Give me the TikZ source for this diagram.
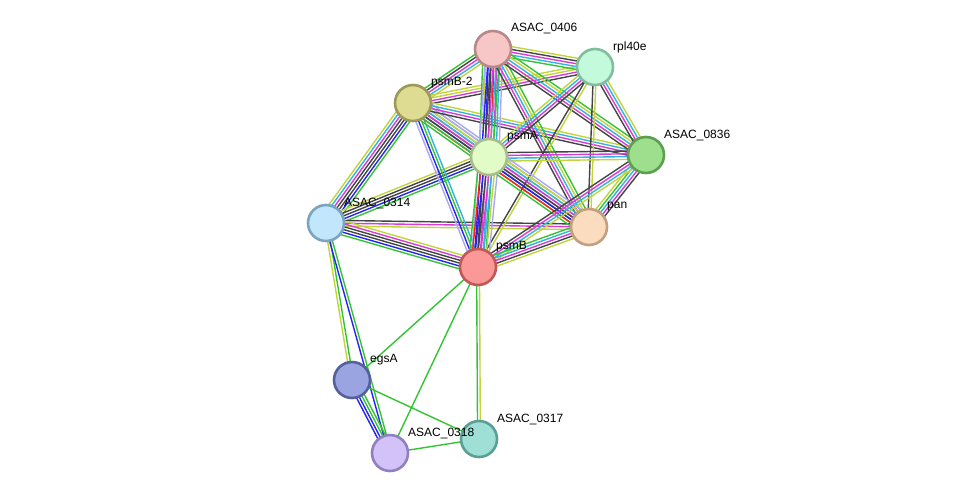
\documentclass[tikz,border=0pt]{standalone}
\usepackage{fontspec}
\setmainfont{Liberation Sans}
\usetikzlibrary{calc,backgrounds}
\definecolor{cNeigh}{HTML}{33C433}
\definecolor{cFus}{HTML}{FF2020}
\definecolor{cCooc}{HTML}{2424F4}
\definecolor{cCoex}{HTML}{444444}
\definecolor{cExp}{HTML}{D93AD9}
\definecolor{cDb}{HTML}{33B4DE}
\definecolor{cText}{HTML}{C2D43C}
\definecolor{cHom}{HTML}{A8A8F4}
\tikzset{
  prot/.style={circle, minimum size=36pt, inner sep=0pt, line width=2.6pt},
  lbl/.style={anchor=west, font=\fontsize{12}{12}\selectfont, inner sep=0pt},
}
\newcommand\bund[3]{%
  \def\bcount{0}%
  \foreach \c in {#3}{\pgfmathtruncatemacro\tmp{\bcount+1}\xdef\bcount{\tmp}}%
  \foreach \c [count=\i] in {#3}{%
    \pgfmathsetmacro\off{(\i-(\bcount+1)/2)*2.8}%
    \draw[\c, line width=1.4pt] ($(#1)!\off pt!90:(#2)$) -- ($(#2)!\off pt!-90:(#1)$);
  }}
\begin{document}
\begin{tikzpicture}[x=1pt,y=-1pt]
\useasboundingbox (0,0) rectangle (976,498);
% nodes
\node[prot, fill={rgb,255:red,247;green,199;blue,199}, draw={rgb,255:red,186;green,136;blue,136}] (A) at (493,49) {};
\node[prot, fill={rgb,255:red,196;green,250;blue,220}, draw={rgb,255:red,128;green,190;blue,158}] (R) at (595,67) {};
\node[prot, fill={rgb,255:red,222;green,219;blue,146}, draw={rgb,255:red,156;green,154;blue,88}] (B2) at (413,103) {};
\node[prot, fill={rgb,255:red,226;green,252;blue,200}, draw={rgb,255:red,166;green,190;blue,140}] (PA) at (489,157) {};
\node[prot, fill={rgb,255:red,158;green,223;blue,142}, draw={rgb,255:red,94;green,158;blue,80}] (C) at (646,155) {};
\node[prot, fill={rgb,255:red,194;green,230;blue,252}, draw={rgb,255:red,122;green,164;blue,192}] (D) at (326,223) {};
\node[prot, fill={rgb,255:red,252;green,220;blue,190}, draw={rgb,255:red,192;green,160;blue,128}] (P) at (589,227) {};
\node[prot, fill={rgb,255:red,252;green,152;blue,152}, draw={rgb,255:red,192;green,88;blue,88}] (PB) at (478,267) {};
\node[prot, fill={rgb,255:red,153;green,164;blue,224}, draw={rgb,255:red,86;green,96;blue,156}] (E) at (352,380) {};
\node[prot, fill={rgb,255:red,158;green,224;blue,214}, draw={rgb,255:red,90;green,158;blue,148}] (F) at (479,439) {};
\node[prot, fill={rgb,255:red,210;green,194;blue,248}, draw={rgb,255:red,144;green,128;blue,192}] (G) at (390,453) {};
% labels
\node[lbl] (lA) at ($(A)+(18,-20)$) {ASAC\_0406};
\node[lbl] (lR) at ($(R)+(18,-20)$) {rpl40e};
\node[lbl] (lB2) at ($(B2)+(18,-20)$) {psmB-2};
\node[lbl] (lPA) at ($(PA)+(18,-20)$) {psmA};
\node[lbl] (lC) at ($(C)+(18,-20)$) {ASAC\_0836};
\node[lbl] (lD) at ($(D)+(18,-20)$) {ASAC\_0314};
\node[lbl] (lP) at ($(P)+(18,-20)$) {pan};
\node[lbl] (lPB) at ($(PB)+(18,-20)$) {psmB};
\node[lbl] (lE) at ($(E)+(18,-20)$) {egsA};
\node[lbl] (lF) at ($(F)+(18,-20)$) {ASAC\_0317};
\node[lbl] (lG) at ($(G)+(18,-20)$) {ASAC\_0318};
% edges
\begin{pgfonlayer}{background}
\bund{D}{E}{cText,cNeigh}
\bund{D}{G}{cCooc,cNeigh}
\bund{E}{G}{cCooc,cCooc,cNeigh,cNeigh}
\bund{E}{F}{cNeigh}
\bund{E}{PB}{cNeigh}
\bund{G}{PB}{cNeigh}
\bund{G}{F}{cNeigh}
\bund{F}{PB}{cText,cNeigh}
\bund{D}{B2}{cNeigh,cCooc,cCoex,cCoex,cExp,cDb,cText}
\bund{D}{PA}{cNeigh,cCooc,cCoex,cCoex,cText}
\bund{D}{P}{cText,cExp,cCoex}
\bund{D}{PB}{cNeigh,cCooc,cCoex,cCoex,cExp,cText}
\bund{B2}{PB}{cHom,cCooc,cNeigh,cDb}
\bund{B2}{PA}{cNeigh,cFus,cCooc,cCoex,cExp,cDb,cText,cHom}
\bund{B2}{P}{cNeigh,cCoex,cExp,cDb,cText,cHom}
\bund{B2}{A}{cText,cDb,cExp,cCoex,cNeigh}
\bund{B2}{R}{cCoex,cExp,cText,cText}
\bund{B2}{C}{cCoex,cExp,cDb,cText}
\bund{A}{PA}{cNeigh,cText,cCooc,cCoex,cFus,cExp,cDb,cHom}
\bund{A}{PB}{cHom,cCooc,cCoex,cExp,cDb,cNeigh}
\bund{A}{P}{cCoex,cExp,cDb,cText,cNeigh}
\bund{A}{R}{cNeigh,cDb,cExp,cCoex,cText}
\bund{A}{C}{cCoex,cExp,cDb,cText,cNeigh}
\bund{R}{PA}{cText,cDb,cExp,cCoex}
\bund{R}{PB}{cCoex,cText}
\bund{R}{P}{cCoex,cText}
\bund{R}{C}{cCoex,cExp,cDb,cText}
\bund{PA}{C}{cText,cDb,cExp,cCoex}
\bund{PA}{PB}{cNeigh,cFus,cCooc,cCoex,cExp,cDb,cText,cHom}
\bund{PA}{P}{cNeigh,cFus,cCooc,cCoex,cExp,cDb,cText,cHom}
\bund{C}{P}{cText,cNeigh,cDb,cExp,cCoex}
\bund{C}{PB}{cCoex,cExp,cDb,cText}
\bund{P}{PB}{cNeigh,cDb,cExp,cCoex,cText}
\end{pgfonlayer}
\end{tikzpicture}
\end{document}
